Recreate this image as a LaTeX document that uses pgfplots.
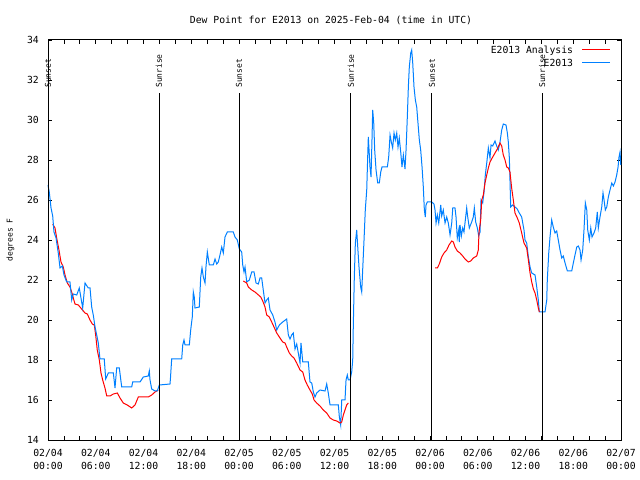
\documentclass[border=0pt]{standalone}
\usepackage{fontspec}
\usepackage{pgfplots}
\pgfplotsset{compat=1.18}
\newfontfamily\gp{DejaVu Sans Mono}
\definecolor{anared}{RGB}{255,0,0}
\definecolor{obsblue}{RGB}{0,128,255}
\newcommand{\gpf}{\gp\fontsize{9.8}{13}\selectfont}
\newcommand{\gps}{\gp\fontsize{8}{10}\selectfont}
\begin{document}
\begin{tikzpicture}
\useasboundingbox (0,0) rectangle (640bp,480bp);
\begin{axis}[
  name=ax,
  at={(48bp,40bp)}, anchor=south west,
  width=573bp, height=400bp, scale only axis,
  xmin=0, xmax=72, ymin=14, ymax=34,
  axis line style={line width=1bp},
  every tick/.style={black, line width=0.8bp},
  major tick length=4bp, minor tick length=4bp,
  xtick={0,6,...,72}, minor x tick num=2,
  xticklabels={{02/04\\00:00},{02/04\\06:00},{02/04\\12:00},{02/04\\18:00},{02/05\\00:00},{02/05\\06:00},{02/05\\12:00},{02/05\\18:00},{02/06\\00:00},{02/06\\06:00},{02/06\\12:00},{02/06\\18:00},{02/07\\00:00}},
  xticklabel style={font=\gpf, align=center, inner sep=0pt, anchor=north, yshift=-9bp},
  ytick={14,16,...,34},
  yticklabel style={font=\gpf, inner sep=0pt, anchor=east, xshift=-9bp},
  /pgf/number format/assume math mode=true,
  title={Dew Point for E2013 on 2025-Feb-04 (time in UTC)},
  title style={font=\gpf, at={(axis description cs:0.5,1)}, anchor=center, yshift=14bp, xshift=-3.5bp},
  ylabel={degrees F},
  ylabel style={font=\gps, at={(axis description cs:-0.0654,0.5)}, anchor=center},
  legend plot pos=none,
  legend cell align=right,
  legend style={at={(axis description cs:1,1)}, anchor=north east, xshift=-47.7bp, yshift=-6.3bp,
    draw=none, fill=none, font=\gpf, inner sep=0pt, row sep=3.2bp, column sep=0pt,
    nodes={inner sep=0pt, text height=7bp, text depth=2.5bp}},
  clip=false
]
% E2013 Analysis (red), first segment
\addplot[color=anared, line width=1bp] coordinates {
(0.59,24.8)(0.88,24.6)(1.09,24.1)(1.38,23.5)(1.63,22.9)(1.92,22.65)(2.14,22.25)(2.43,21.85)
(2.76,21.65)(2.98,21.4)(3.18,21.1)(3.39,20.8)(3.81,20.75)(4.23,20.55)(4.65,20.35)(4.94,20.3)
(5.28,20.0)(5.57,19.8)(5.82,19.75)(5.99,19.25)(6.19,18.5)(6.45,18.0)(6.66,17.35)(6.87,17.0)
(7.16,16.6)(7.38,16.2)(7.79,16.2)(8.21,16.3)(8.71,16.35)(9.05,16.1)(9.46,15.85)(9.96,15.75)
(10.52,15.6)(10.93,15.75)(11.35,16.15)(12.60,16.15)(13.03,16.25)(13.45,16.4)(13.86,16.5)
};
\addlegendentry{E2013 Analysis}
\addplot[color=obsblue, line width=1bp] coordinates {
(0.00,26.75)(0.16,26.4)(0.38,25.6)(0.59,25.2)(0.75,24.4)(1.01,24.1)(1.29,23.35)(1.51,22.6)
(1.80,22.7)(2.01,22.25)(2.35,21.9)(2.76,21.9)(2.98,21.0)(3.18,21.3)(3.61,21.25)(3.93,21.6)
(4.23,20.9)(4.36,20.6)(4.65,21.85)(5.06,21.6)(5.28,21.6)(5.49,20.65)(5.69,20.25)(5.91,19.65)
(6.12,19.25)(6.32,18.85)(6.53,18.05)(7.07,18.05)(7.25,17.05)(7.58,17.35)(8.21,17.35)(8.42,16.6)
(8.63,17.6)(8.96,17.6)(9.26,16.65)(10.52,16.65)(10.64,16.9)(11.56,16.9)(11.98,17.15)(12.60,17.2)
(12.73,17.45)(12.82,17.0)(13.03,16.55)(13.45,16.45)(13.73,16.45)(13.99,16.75)(15.33,16.8)(15.39,17.1)
(15.54,18.05)(16.80,18.05)(16.93,18.75)(17.09,19.0)(17.22,18.75)(17.76,18.75)(17.93,19.5)(18.13,20.15)
(18.26,21.4)(18.38,21.15)(18.47,20.6)(19.01,20.65)(19.19,22.15)(19.35,22.6)(19.52,22.15)(19.73,21.85)
(19.85,22.65)(20.02,23.4)(20.27,22.75)(20.77,22.75)(20.99,23.05)(21.20,22.8)(21.40,22.9)(21.61,23.25)
(21.83,23.65)(22.03,23.35)(22.24,24.15)(22.53,24.4)(23.28,24.4)(23.50,24.15)(23.79,24.0)(24.04,23.55)
(24.34,23.4)(24.47,22.75)(24.63,22.4)(24.76,22.65)(24.97,21.9)(25.30,22.0)(25.60,22.4)(25.89,22.4)
(26.14,21.85)(26.43,21.8)(26.64,22.1)(26.85,22.1)(27.05,21.5)(27.27,20.85)(27.48,21.0)(27.68,21.1)
(27.90,20.5)(28.24,20.25)(28.52,19.9)(28.74,19.5)(29.07,19.75)(29.49,19.9)(29.99,20.05)(30.20,19.25)
(30.41,19.05)(30.62,19.25)(30.82,19.35)(31.04,18.55)(31.25,18.8)(31.45,18.35)(31.67,17.85)(31.79,18.85)
(32.01,17.9)(32.71,17.9)(32.92,16.9)(33.14,16.85)(33.34,16.4)(33.55,16.15)(33.76,16.35)(34.18,16.5)
(34.81,16.45)(35.02,16.8)(35.22,16.35)(35.44,15.75)(36.48,15.75)(36.61,15.15)(36.78,14.75)(36.91,16.0)
(37.32,16.0)(37.45,17.0)(37.61,17.25)(37.74,17.0)(37.95,17.0)(38.16,17.4)(38.29,18.0)(38.36,19.65)
(38.49,22.15)(38.62,23.85)(38.79,24.5)(38.92,23.65)(39.08,22.65)(39.29,21.65)(39.42,21.4)(39.54,22.5)
(39.71,24.0)(39.87,25.5)(40.05,26.5)(40.17,28.15)(40.25,29.15)(40.37,28.3)(40.46,27.65)(40.59,27.15)
(40.71,29.0)(40.80,30.5)(40.93,29.85)(41.05,28.5)(41.22,27.5)(41.43,26.85)(41.63,26.85)(41.81,27.4)
(41.97,27.65)(42.64,27.65)(42.81,28.15)(42.98,29.25)(43.14,28.9)(43.31,28.6)(43.48,29.35)(43.64,29.0)
(43.82,29.35)(43.98,28.65)(44.14,29.1)(44.32,28.4)(44.48,27.65)(44.65,28.25)(44.86,27.55)(44.99,28.5)
(45.15,30.15)(45.28,31.65)(45.40,32.65)(45.58,33.35)(45.70,33.5)(45.83,32.85)(45.99,31.65)(46.16,31.0)
(46.33,30.65)(46.49,29.85)(46.66,29.0)(46.83,28.5)(47.00,27.65)(47.16,26.65)(47.29,25.5)(47.41,25.15)
(47.50,25.75)(47.66,25.9)(48.22,25.9)(48.50,25.8)(48.63,25.5)(48.76,24.85)(48.92,25.25)(49.10,24.85)
(49.35,25.75)(49.47,25.2)(49.67,25.5)(49.89,24.85)(50.10,25.15)(50.30,24.85)(50.52,24.25)(50.73,24.85)
(50.86,25.6)(51.14,25.6)(51.27,25.15)(51.43,24.1)(51.61,24.5)(51.68,23.9)(51.77,24.75)(51.94,24.2)
(52.11,24.6)(52.27,24.4)(52.44,25.0)(52.61,25.6)(52.74,25.15)(52.94,24.6)(53.24,24.9)(53.44,25.15)
(53.57,25.6)(53.74,24.9)(53.95,24.6)(54.12,24.2)(54.29,24.4)(54.41,26.0)(54.62,25.85)(54.79,26.4)
(54.95,27.25)(55.13,27.85)(55.33,28.6)(55.54,28.1)(55.67,28.75)(55.88,28.7)(56.17,28.95)(56.38,28.7)
(56.58,28.5)(56.80,28.9)(57.01,29.5)(57.21,29.8)(57.55,29.75)(57.72,29.35)(57.84,28.9)(57.97,28.1)
(58.05,27.0)(58.14,25.65)(58.39,25.75)(58.68,25.65)(58.97,25.55)(59.22,25.35)(59.52,25.15)(59.81,24.5)
(59.94,24.0)(60.15,23.85)(60.36,23.15)(60.57,22.65)(60.78,22.35)(61.20,22.25)(61.41,21.65)(61.61,21.0)
(61.74,20.4)(62.45,20.4)(62.67,21.0)(62.74,22.0)(62.92,23.35)(63.08,24.15)(63.29,25.0)(63.49,24.65)
(63.71,24.35)(63.92,24.45)(64.12,24.0)(64.34,23.5)(64.55,23.1)(64.75,23.2)(64.97,22.85)(65.26,22.45)
(65.81,22.45)(66.01,22.85)(66.22,23.25)(66.44,23.65)(66.64,23.7)(66.85,23.5)(66.98,23.0)(67.19,23.5)
(67.35,24.5)(67.52,25.85)(67.70,25.5)(67.82,24.5)(68.02,24.0)(68.20,24.6)(68.36,24.15)(68.61,24.35)
(68.82,24.6)(69.02,25.4)(69.15,24.6)(69.36,25.15)(69.58,25.65)(69.74,26.35)(69.87,26.0)(70.03,25.5)
(70.21,25.65)(70.41,26.15)(70.62,26.5)(70.84,26.85)(71.04,26.7)(71.25,26.9)(71.46,27.25)(71.63,27.65)
(71.75,28.15)(71.88,28.4)(71.97,27.75)
};
\addlegendentry{E2013}
% red segments 2 and 3
\addplot[color=anared, line width=1bp, forget plot] coordinates {
(24.54,21.95)(24.97,21.85)(25.17,21.65)(25.60,21.5)(26.01,21.4)(26.30,21.3)(26.73,21.15)(26.98,20.95)
(27.27,20.65)(27.48,20.25)(27.81,20.15)(28.11,19.9)(28.40,19.65)(28.74,19.35)(29.15,19.1)(29.49,18.9)
(29.78,18.85)(29.99,18.65)(30.32,18.35)(30.62,18.2)(30.91,18.1)(31.25,17.85)(31.67,17.5)(32.01,17.4)
(32.29,17.0)(32.58,16.75)(32.92,16.5)(33.21,16.3)(33.43,16.0)(33.76,15.85)(34.18,15.7)(34.59,15.5)
(35.02,15.35)(35.44,15.1)(35.85,15.0)(36.28,14.95)(36.69,14.85)(36.91,14.9)(37.11,15.25)(37.32,15.5)
(37.53,15.75)(37.74,15.85)
};
\addplot[color=anared, line width=1bp, forget plot] coordinates {
(48.63,22.6)(48.92,22.6)(49.17,22.8)(49.47,23.15)(49.76,23.35)(50.10,23.5)(50.39,23.75)(50.73,23.95)
(50.93,23.9)(51.14,23.65)(51.43,23.45)(51.77,23.35)(52.11,23.2)(52.40,23.05)(52.81,22.9)(53.12,22.95)
(53.44,23.1)(53.87,23.2)(54.07,23.5)(54.16,24.4)(54.37,25.0)(54.50,26.0)(54.70,26.25)(54.91,26.85)
(55.13,27.25)(55.33,27.6)(55.54,27.9)(55.88,28.15)(56.17,28.35)(56.46,28.55)(56.80,28.85)(57.01,28.7)
(57.21,28.25)(57.43,28.0)(57.64,27.65)(57.84,27.6)(58.05,27.4)(58.26,26.6)(58.47,26.0)(58.68,25.35)
(58.97,25.1)(59.22,24.85)(59.52,24.35)(59.81,23.85)(60.15,23.6)(60.36,23.0)(60.57,22.35)(60.78,21.9)
(60.99,21.55)(61.20,21.35)(61.41,21.0)(61.61,20.6)(61.74,20.4)
};
% sunrise / sunset markers
\foreach \h/\lab in {0/Sunset,13.95/Sunrise,24.0/Sunset,38.05/Sunrise,48.25/Sunset,62.1/Sunrise}{
  \edef\tmp{\noexpand\draw[black, line width=1bp] (axis cs:\h,14) -- (axis cs:\h,31.35);
  \noexpand\node[rotate=90, anchor=west, inner sep=0pt, font=\noexpand\gps] at (axis cs:\h,31.6) {\lab};}
  \tmp
}
\end{axis}
% legend sample lines beside the legend text
\draw[anared, line width=1bp] ([xshift=-39bp, yshift=-10bp]ax.north east) -- ([xshift=-11bp, yshift=-10bp]ax.north east);
\draw[obsblue, line width=1bp] ([xshift=-39bp, yshift=-22.7bp]ax.north east) -- ([xshift=-11bp, yshift=-22.7bp]ax.north east);
\end{tikzpicture}
\end{document}
